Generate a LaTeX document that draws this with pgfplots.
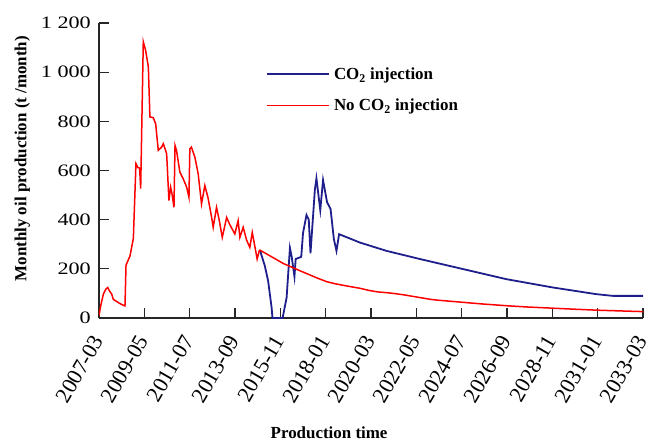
\documentclass[border=0pt]{standalone}
\usepackage{pgfplots}
\pgfplotsset{compat=1.18}
\usepackage{fontspec}
\setmainfont{Liberation Serif}
\newfontfamily\ytickfont[FakeStretch=1.27]{Liberation Serif}
\definecolor{cblue}{RGB}{30,30,140}
\definecolor{cred}{RGB}{255,0,0}
\begin{document}
\begin{tikzpicture}
\useasboundingbox (-99bp,-124bp) rectangle (552bp,318bp);
\begin{axis}[
  scale only axis,
  width=544bp, height=295bp,
  at={(0,0)}, anchor=south west,
  xmin=0, xmax=312, ymin=0, ymax=1200,
  axis x line*=bottom, axis y line*=left,
  axis line style={line width=1.2bp, black!85},
  tick style={line width=1.2bp, black!85},
  tick align=inside,
  major tick length=10bp,
  xtick={0,26,...,312},
  xticklabels={2007-03,2009-05,2011-07,2013-09,2015-11,2018-01,2020-03,2022-05,2024-07,2026-09,2028-11,2031-01,2033-03},
  ytick={0,200,...,1200},
  yticklabels={0,200,400,600,800,1 000,1 200},
  xticklabel style={font=\fontsize{22}{22}\selectfont, yshift=-19bp, xshift=-1bp, rotate=60, anchor=east, inner sep=0bp},
  yticklabel style={font=\ytickfont\fontsize{17.5}{17.5}\selectfont, inner sep=0bp, xshift=-8bp},
  xlabel={Production time},
  ylabel={Monthly oil production (t /month)},
  label style={font=\fontsize{17}{17}\selectfont\bfseries},
  xlabel style={at={(axis description cs:0.423,-0.388)}, anchor=center, inner sep=0bp},
  ylabel style={at={(axis description cs:-0.141,0.54)}, anchor=center, rotate=0},
  legend style={draw=none, fill=none, font=\fontsize{17}{17}\selectfont\bfseries,
    at={(axis description cs:0.307,0.773)}, anchor=west, inner sep=0pt,
    row sep=14bp, nodes={inner sep=2bp}},
  legend cell align=left,
  legend image code/.code={\draw[#1] (0bp,0bp) -- (62bp,0bp);},
]
\addplot[cblue, line width=1.8bp] coordinates {
(92.3,276) (95.1,212) (97,151) (99,42) (99.5,0) (105.3,0) (107.6,83) (109.5,285)
(110.5,250) (112.1,168) (112.8,240) (116,249) (117,345) (119,419) (120.3,400)
(121.3,263) (123.8,521) (124.7,568) (126.9,439) (128.5,561) (130.8,471) (132.8,444)
(134.7,321) (136.2,273) (137.7,341) (149.6,307) (164.9,273) (184,240) (208.8,199)
(233.6,158) (260.4,124) (285.2,97) (294.7,90) (312,90)
};
\addlegendentry{\hspace{2bp}CO\textsubscript{2} injection}
\addplot[cred, line width=1.5bp] coordinates {
(0,10) (1,50) (2.5,97) (4,118) (5,124) (6,110) (7.3,97) (8.2,76) (11,63) (13,55)
(14.9,49) (15.5,215) (17.8,253) (19.7,324) (21.2,628) (22.3,612) (23.3,610) (23.9,526)
(25.4,1124) (26.7,1090) (28.3,1022) (29.2,818) (31.1,815) (32.5,790) (34,682)
(35.9,695) (36.9,709) (38.8,668) (40.1,478) (41.1,532) (42,500) (43,450) (43.6,702)
(44.5,680) (46.4,593) (48.3,566) (50.3,532) (51.6,491) (52.1,688) (53,695) (55,654)
(56.9,586) (58.8,464) (60.7,539) (62.5,490) (64.6,409) (65.5,369) (67.4,450)
(68.9,400) (70.7,328) (73.2,409) (75,380) (77.9,342) (79.8,396) (80.8,328)
(82.7,369) (84.6,318) (86.5,287) (87.9,348) (89.5,287) (90.7,240) (91.9,273)
(92.3,276) (100,245) (105.6,222) (109.5,210) (115,193) (120,178) (125,163)
(130.5,148) (135,140) (140,133) (149.6,121) (155,112) (160,106) (165,103) (170,99)
(175,94) (180,88) (185,82) (190,76) (195,72) (200,69) (205,66) (210,63) (220,57)
(233.6,50) (245,45) (260,40) (272,36) (285,32) (298,29) (312,26)
};
\addlegendentry{\hspace{2bp}No CO\textsubscript{2} injection}
\end{axis}
\end{tikzpicture}
\end{document}
